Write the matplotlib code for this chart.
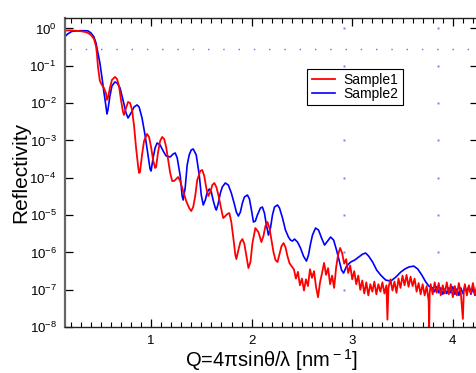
import matplotlib
matplotlib.use("Agg")
import matplotlib.pyplot as plt
from matplotlib.ticker import LogLocator, MultipleLocator, NullLocator
import numpy as np

plt.rcParams["font.family"] = ["Liberation Sans", "DejaVu Sans"]
plt.rcParams["mathtext.fontset"] = "custom"
plt.rcParams["mathtext.rm"] = "Liberation Sans"
plt.rcParams["axes.unicode_minus"] = False

# Sample1 (red): Q [nm^-1] and log10(reflectivity)
s1_q = [0.143, 0.192, 0.242, 0.292, 0.342, 0.372, 0.402, 0.432, 0.452, 0.462,
        0.472, 0.491, 0.511, 0.531, 0.551, 0.561, 0.571, 0.591, 0.611, 0.641,
        0.661, 0.681, 0.701, 0.721, 0.731, 0.751, 0.771, 0.791, 0.811, 0.831,
        0.851, 0.871, 0.881, 0.890, 0.910, 0.930, 0.960, 0.980, 1.000, 1.020,
        1.040, 1.050, 1.070, 1.090, 1.110, 1.130, 1.150, 1.170, 1.190, 1.210,
        1.229, 1.249, 1.269, 1.289, 1.319, 1.349, 1.379, 1.399, 1.419, 1.439,
        1.459, 1.489, 1.509, 1.529, 1.549, 1.569, 1.589, 1.609, 1.629, 1.649,
        1.669, 1.689, 1.708, 1.718, 1.738, 1.758, 1.778, 1.798, 1.818, 1.838,
        1.848, 1.868, 1.888, 1.908, 1.928, 1.948, 1.968, 1.988, 2.008, 2.037,
        2.067, 2.097, 2.117, 2.137, 2.157, 2.177, 2.197, 2.217, 2.237, 2.257,
        2.277, 2.297, 2.317, 2.336, 2.356, 2.376, 2.396,
        2.42, 2.44, 2.46, 2.48, 2.50, 2.52, 2.54, 2.56, 2.58, 2.60,
        2.62, 2.64, 2.66, 2.68, 2.70, 2.72, 2.74, 2.76, 2.78, 2.80,
        2.82, 2.84, 2.86, 2.88, 2.90, 2.92, 2.94, 2.96, 2.98, 3.00,
        3.02, 3.04, 3.06, 3.08, 3.10, 3.12, 3.14, 3.16, 3.18, 3.20,
        3.22, 3.24, 3.26, 3.28, 3.30, 3.32, 3.34, 3.35, 3.36, 3.38,
        3.40, 3.42, 3.44, 3.46, 3.48, 3.50, 3.52, 3.54, 3.56, 3.58,
        3.60, 3.62, 3.64, 3.66, 3.68, 3.70, 3.72, 3.74, 3.76, 3.765,
        3.77, 3.78, 3.80, 3.82, 3.84, 3.86, 3.88, 3.90, 3.92, 3.94,
        3.96, 3.98, 4.00, 4.02, 4.04, 4.06, 4.08, 4.10, 4.11, 4.12,
        4.14, 4.16, 4.18, 4.20, 4.22, 4.24, 4.26]
s1_logr = [-0.056, -0.051, -0.059, -0.070, -0.091, -0.118, -0.172, -0.279, -0.466, -0.681,
           -1.029, -1.405, -1.512, -1.592, -1.727, -1.914, -1.861, -1.592, -1.378, -1.298,
           -1.351, -1.539, -1.914, -2.236, -2.316, -2.129, -1.968, -1.995, -2.182, -2.611,
           -3.201, -3.684, -3.871, -3.845, -3.389, -3.014, -2.826, -2.906, -3.174, -3.523,
           -3.737, -3.710, -3.308, -3.014, -2.906, -2.960, -3.174, -3.523, -3.871, -4.086,
           -4.086, -4.032, -3.979, -4.086, -4.354, -4.622, -4.810, -4.890, -4.783, -4.488,
           -4.059, -3.818, -3.791, -3.952, -4.273, -4.488, -4.381, -4.193, -4.139, -4.247,
           -4.461, -4.729, -4.971, -5.078, -5.024, -4.971, -4.944, -5.185, -5.614, -6.070,
           -6.177, -5.936, -5.721, -5.641, -5.775, -6.097, -6.418, -6.257, -5.748, -5.346,
           -5.453, -5.721, -5.561, -5.292, -5.185, -5.346, -5.668, -5.989, -6.204, -6.257,
           -6.043, -5.829, -5.748, -5.855, -6.097, -6.284, -6.365,
           -6.45, -6.70, -6.52, -6.88, -6.70, -7.02, -6.72, -6.90, -6.45, -6.68,
           -6.50, -6.92, -7.20, -6.80, -6.55, -6.28, -6.60, -6.42, -6.85, -6.62,
           -6.95, -6.40, -6.05, -5.88, -6.02, -6.30, -6.18, -6.55, -6.35, -6.72,
           -6.50, -6.85, -6.62, -7.00, -6.75, -7.10, -6.80, -7.15, -6.85, -7.05,
           -6.78, -7.12, -6.85, -7.05, -6.80, -7.10, -6.88, -7.80, -6.95, -6.72,
           -7.02, -6.78, -7.08, -6.70, -6.95, -6.62, -6.88, -6.60, -6.92, -6.65,
           -6.90, -6.70, -7.05, -6.82, -7.12, -6.85, -7.15, -6.90, -7.30, -8.05,
           -7.10, -6.85, -7.12, -6.80, -7.08, -6.82, -7.15, -6.88, -7.10, -6.80,
           -7.12, -6.85, -7.20, -6.90, -7.15, -6.82, -7.10, -7.78, -7.00, -6.85,
           -7.15, -6.88, -7.10, -6.82, -7.12, -6.90, -7.05]

# Sample2 (blue)
s2_q = [0.143, 0.172, 0.212, 0.262, 0.322, 0.372, 0.402, 0.432, 0.452, 0.472,
        0.491, 0.511, 0.531, 0.551, 0.561, 0.571, 0.591, 0.611, 0.641, 0.661,
        0.691, 0.721, 0.751, 0.771, 0.801, 0.831, 0.861, 0.881, 0.910, 0.940,
        0.970, 0.990, 1.000, 1.020, 1.040, 1.060, 1.090, 1.120, 1.150, 1.190,
        1.220, 1.240, 1.260, 1.290, 1.309, 1.319, 1.339, 1.359, 1.379, 1.399,
        1.419, 1.449, 1.479, 1.499, 1.519, 1.539, 1.559, 1.579, 1.599, 1.619,
        1.639, 1.649, 1.669, 1.689, 1.708, 1.738, 1.768, 1.798, 1.828, 1.848,
        1.868, 1.888, 1.908, 1.928, 1.958, 1.978, 1.998, 2.018, 2.037, 2.057,
        2.087, 2.107, 2.127, 2.147, 2.167, 2.187, 2.207, 2.227, 2.257, 2.277,
        2.307, 2.336, 2.366, 2.386, 2.406, 2.426, 2.456, 2.486, 2.515, 2.545,
        2.565, 2.585, 2.605, 2.635, 2.665, 2.695, 2.725, 2.755, 2.785, 2.815,
        2.844, 2.874, 2.894, 2.914, 2.944, 2.984, 3.024, 3.064, 3.104, 3.134,
        3.163, 3.203, 3.243, 3.283, 3.333, 3.383, 3.433, 3.482, 3.522, 3.562,
        3.612, 3.652, 3.692, 3.732, 3.762, 3.802,
        3.82, 3.84, 3.86, 3.88, 3.90, 3.92, 3.94, 3.96, 3.98, 4.00,
        4.02, 4.04, 4.06, 4.08, 4.10, 4.12, 4.14, 4.16, 4.18, 4.20,
        4.22, 4.24, 4.26]
s2_logr = [-0.217, -0.145, -0.078, -0.064, -0.059, -0.064, -0.118, -0.225, -0.386, -0.654,
           -0.922, -1.298, -1.700, -2.075, -2.290, -2.182, -1.807, -1.539, -1.432, -1.458,
           -1.592, -1.914, -2.263, -2.397, -2.263, -2.102, -2.048, -2.102, -2.397, -2.853,
           -3.389, -3.764, -3.818, -3.469, -3.201, -3.067, -3.121, -3.281, -3.416, -3.442,
           -3.362, -3.335, -3.469, -3.952, -4.488, -4.595, -4.273, -3.657, -3.389, -3.255,
           -3.228, -3.389, -3.925, -4.461, -4.729, -4.595, -4.381, -4.300, -4.381, -4.622,
           -4.810, -4.863, -4.676, -4.408, -4.247, -4.139, -4.193, -4.408, -4.702, -4.917,
           -5.024, -4.917, -4.676, -4.515, -4.461, -4.568, -4.863, -5.185, -5.158, -4.997,
           -4.810, -4.783, -4.944, -5.265, -5.534, -5.346, -4.997, -4.783, -4.729, -4.810,
           -5.078, -5.399, -5.587, -5.668, -5.694, -5.641, -5.721, -5.882, -6.097, -6.231,
           -6.070, -5.775, -5.534, -5.346, -5.399, -5.614, -5.802, -5.694, -5.587, -5.668,
           -5.936, -6.257, -6.472, -6.552, -6.365, -6.257, -6.204, -6.123, -6.043, -6.016,
           -6.097, -6.257, -6.472, -6.606, -6.740, -6.767, -6.660, -6.526, -6.445, -6.391,
           -6.365, -6.445, -6.606, -6.794, -6.901, -6.954,
           -7.05, -6.92, -7.08, -6.95, -7.12, -6.98, -7.10, -6.95, -7.08, -6.92,
           -7.12, -6.98, -7.15, -6.95, -7.10, -6.92, -7.05, -6.90, -7.12, -6.95,
           -7.15, -6.98, -7.08]

# faint dotted marks left by the original plotting program
guide_r = 0.284
guide_q = [2.914, 3.85]
guide_decades = [0, -1, -2, -3, -4, -5, -6, -7]

fig = plt.figure(figsize=(4.77, 3.73), dpi=100)
ax = fig.add_axes([0.136, 0.123, 0.866, 0.829])

ax.plot([0.19, 4.26], [guide_r, guide_r], color="#6a6aff", lw=1.0,
        linestyle=(0, (1, 10)))
for q in guide_q:
    ax.plot([q] * len(guide_decades), [10.0 ** d for d in guide_decades],
            "s", ms=1.4, color="#7a7aff", mec="none")

line2, = ax.plot(s2_q, 10.0 ** np.array(s2_logr), color="#0000ff", lw=1.2,
                 label="Sample2")
line1, = ax.plot(s1_q, 10.0 ** np.array(s1_logr), color="#ff0000", lw=1.3,
                 label="Sample1")

ax.set_yscale("log")
ax.set_xlim(0.143, 4.25)
ax.set_ylim(1e-8, 1.92)
ax.xaxis.set_major_locator(MultipleLocator(1))
ax.xaxis.set_minor_locator(MultipleLocator(0.1))
ax.yaxis.set_major_locator(LogLocator(base=10, numticks=20))
ax.yaxis.set_minor_locator(NullLocator())
ax.tick_params(which="both", direction="in", top=True, right=True,
               labelsize=9.5, color="black")
ax.tick_params(which="major", length=6, width=0.9, pad=6)
ax.tick_params(which="minor", length=3.5, width=0.8)
for s in ax.spines.values():
    s.set_linewidth(1.0)
    s.set_color("#222222")
ax.spines["left"].set_color("#666666")
ax.spines["left"].set_linewidth(1.6)

ax.set_xlabel("Q=4πsinθ/λ [nm$^{\\rm -1}$]", fontsize=14.5)
ax.xaxis.set_label_coords(0.5, -0.066)
ax.set_ylabel("Reflectivity", fontsize=15)
ax.yaxis.set_label_coords(-0.083, 0.5)

leg = ax.legend([line1, line2], ["Sample1", "Sample2"], loc="upper left",
                bbox_to_anchor=(0.587, 0.835), borderaxespad=0, fontsize=10,
                fancybox=False, framealpha=1, edgecolor="black",
                handlelength=1.7, handletextpad=0.6, labelspacing=0.0,
                borderpad=0.3)
leg.get_frame().set_linewidth(0.8)

fig.savefig("out.png", dpi=100)
